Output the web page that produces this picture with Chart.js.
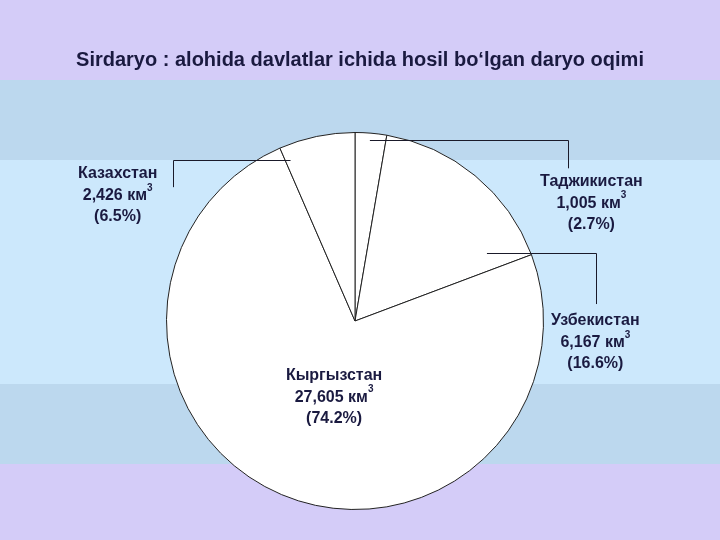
<!DOCTYPE html>
<html>
<head>
<meta charset="utf-8">
<script src="https://cdn.jsdelivr.net/npm/chart.js@4"></script>
<style>
  html, body { margin: 0; padding: 0; background: #cce8fc; }
  #wrap { width: 720px; height: 540px; }
</style>
</head>
<body>
<div id="wrap"><canvas id="myChart" width="720" height="540"></canvas></div>
<script>
// data, clockwise from 12 o'clock
var countries = ['Таджикистан', 'Узбекистан', 'Кыргызстан', 'Казахстан'];
var flow_km3 = [1.005, 6.167, 27.605, 2.426];
var flow_text = ['1,005', '6,167', '27,605', '2,426'];
var share_text = ['2.7%', '16.6%', '74.2%', '6.5%'];
var title = 'Sirdaryo : alohida davlatlar ichida hosil bo\u2018lgan daryo oqimi';

var textColor = '#1a1a40';
var labelFont = 'bold 16px "Liberation Sans", Arial, sans-serif';
var supFont = 'bold 10px "Liberation Sans", Arial, sans-serif';

// leader lines / label spots, in units of the pie radius from its centre
// start = where the line leaves the slice, cornerX = where it turns down, endY = bottom of the tick
var callouts = [
    { start: [0.079, -0.958], cornerX: 1.13, endY: -0.81, text: [1.254, -0.74] },
    { start: [0.70, -0.363], cornerX: 1.279, endY: -0.09, text: [1.275, 0.0] },
    { start: null, text: [-0.111, 0.29] },
    { start: [-0.342, -0.853], cornerX: -0.963, endY: -0.71, text: [-1.259, -0.78] }
];

var bandsPlugin = {
    id: 'bands',
    beforeDraw: function(chart){
        var c = chart.ctx;
        c.save();
        c.fillStyle = '#d4ccf8'; c.fillRect(0, 0, 720, 80);
        c.fillStyle = '#bcd8ee'; c.fillRect(0, 80, 720, 80);
        c.fillStyle = '#cce8fc'; c.fillRect(0, 160, 720, 224);
        c.fillStyle = '#bcd8ee'; c.fillRect(0, 384, 720, 80);
        c.fillStyle = '#d4ccf8'; c.fillRect(0, 464, 720, 76);
        c.restore();
    }
};

function drawValueLine(c, x, y, value){
    c.font = labelFont;
    var main = value + ' км';
    var w1 = c.measureText(main).width;
    c.font = supFont;
    var w2 = c.measureText('3').width;
    var left = x - (w1 + w2) / 2;
    c.textAlign = 'left';
    c.font = labelFont;
    c.fillText(main, left, y);
    c.font = supFont;
    c.fillText('3', left + w1, y - 8);
    c.textAlign = 'center';
}

var labelPlugin = {
    id: 'labels',
    afterDraw: function(chart){
        var c = chart.ctx;
        var arc = chart.getDatasetMeta(0).data[0];
        var cx = arc.x, cy = arc.y, r = arc.outerRadius;
        c.save();
        // title
        c.fillStyle = textColor;
        c.textAlign = 'center';
        c.textBaseline = 'middle';
        c.font = 'bold 20px "Liberation Sans", Arial, sans-serif';
        c.fillText(title, 360, 60);

        for (var i = 0; i < countries.length; i++) {
            var co = callouts[i];
            if (co.start) {
                c.strokeStyle = '#1a1a2a';
                c.lineWidth = 1;
                c.beginPath();
                c.moveTo(cx + co.start[0] * r, Math.round(cy + co.start[1] * r) + 0.5);
                c.lineTo(Math.round(cx + co.cornerX * r) + 0.5, Math.round(cy + co.start[1] * r) + 0.5);
                c.lineTo(Math.round(cx + co.cornerX * r) + 0.5, cy + co.endY * r);
                c.stroke();
            }
            var tx = cx + co.text[0] * r, ty = cy + co.text[1] * r;
            c.fillStyle = textColor;
            c.font = labelFont;
            c.fillText(countries[i], tx, ty);
            drawValueLine(c, tx, ty + 22, flow_text[i]);
            c.font = labelFont;
            c.fillText('(' + share_text[i] + ')', tx, ty + 43);
        }
        c.restore();
    }
};

var ctx = document.getElementById('myChart').getContext('2d');
var myChart = new Chart(ctx, {
    type: 'pie',
    data: {
        labels: countries,
        datasets: [{
            data: flow_km3,
            backgroundColor: '#ffffff',
            borderColor: '#222222',
            borderWidth: 1
        }]
    },
    options: {
        responsive: false,
        animation: false,
        layout: { padding: { left: 0, right: 10, top: 132, bottom: 30 } },
        plugins: {
            legend: { display: false },
            tooltip: { enabled: false }
        }
    },
    plugins: [bandsPlugin, labelPlugin]
});
</script>
</body>
</html>
